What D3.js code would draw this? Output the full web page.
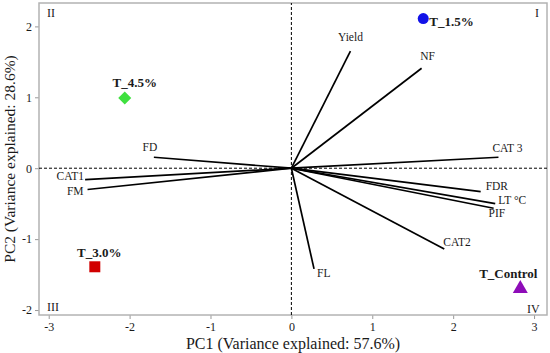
<!DOCTYPE html>
<html lang="en">

<head>
    <meta charset="UTF-8">
    <title>PCA biplot</title>
    <script src="https://d3js.org/d3.v7.min.js"></script>
    <style>
        body { margin: 0; background: #fff; }
        text { font-family: "Liberation Serif", "DejaVu Serif", serif; fill: #1a1a1a; }
    </style>
</head>

<body>
    <div class="chart"></div>

    <script>
        // Loading vectors (PC1, PC2)
        const varNames = ["Yield", "NF", "CAT 3", "FD", "CAT1", "FM", "FDR", "LT °C", "PIF", "CAT2", "FL"];
        const varPC1 = [0.73, 1.61, 2.56, -1.70, -2.55, -2.52, 2.34, 2.52, 2.50, 1.89, 0.28];
        const varPC2 = [1.65, 1.41, 0.155, 0.155, -0.16, -0.30, -0.33, -0.50, -0.565, -1.14, -1.42];

        // Treatment scores
        const treatNames = ["T_1.5%", "T_4.5%", "T_3.0%", "T_Control"];
        const treatPC1 = [1.63, -2.06, -2.43, 2.83];
        const treatPC2 = [2.11, 0.99, -1.39, -1.70];

        const xTicks = [-3, -2, -1, 0, 1, 2, 3];
        const yTicks = [-2, -1, 0, 1, 2];
        const quadrants = ["I", "II", "III", "IV"];

        const w = 550, h = 353;
        const margin = { top: 3, right: 3, bottom: 38, left: 39 };

        const x = d3.scaleLinear().domain([-3.12, 3.16]).range([margin.left, w - margin.right]);
        const y = d3.scaleLinear().domain([-2.07, 2.33]).range([h - margin.bottom, margin.top]);

        const svg = d3.select(".chart").append("svg")
            .attr("width", w)
            .attr("height", h);

        // axes (plain hyphen for negatives, like the original)
        const xAxis = svg.append("g")
            .attr("transform", `translate(0,${h - margin.bottom})`)
            .call(d3.axisBottom(x).tickValues(xTicks).tickSize(4).tickPadding(3).tickFormat(d => String(d)));
        const yAxis = svg.append("g")
            .attr("transform", `translate(${margin.left},0)`)
            .call(d3.axisLeft(y).tickValues(yTicks).tickSize(4).tickPadding(3).tickFormat(d => String(d)));
        [xAxis, yAxis].forEach(a => {
            a.select(".domain").remove();
            a.selectAll("line").attr("stroke", "#999");
            a.selectAll("text").style("font-size", "12px").attr("fill", "#333")
                .style("font-family", "'Liberation Serif', serif");
        });

        // frame
        svg.append("rect")
            .attr("x", margin.left).attr("y", margin.top)
            .attr("width", w - margin.left - margin.right)
            .attr("height", h - margin.top - margin.bottom)
            .attr("fill", "none").attr("stroke", "#b3b3b3").attr("stroke-width", 1.5);

        // dashed zero lines
        svg.append("line")
            .attr("x1", x.range()[0]).attr("x2", x.range()[1])
            .attr("y1", y(0)).attr("y2", y(0))
            .attr("stroke", "#000").attr("stroke-width", 1).attr("stroke-dasharray", "3,2");
        svg.append("line")
            .attr("x1", x(0)).attr("x2", x(0))
            .attr("y1", y.range()[0]).attr("y2", y.range()[1])
            .attr("stroke", "#000").attr("stroke-width", 1).attr("stroke-dasharray", "3,2");

        // loading vectors
        const vars = varNames.map((n, i) => ({ name: n, pc1: varPC1[i], pc2: varPC2[i] }));
        svg.selectAll(".vec")
            .data(vars)
            .join("line")
            .attr("class", "vec")
            .attr("x1", x(0)).attr("y1", y(0))
            .attr("x2", d => x(d.pc1)).attr("y2", d => y(d.pc2))
            .attr("stroke", "#000").attr("stroke-width", 1.7);

        // label nudges (anchor, dx, dy) so nothing overlaps
        const varLabelPos = {
            "Yield": ["middle", 0, -10],
            "NF": ["middle", 6, -8],
            "CAT 3": ["middle", 9, -5],
            "FD": ["middle", -4, -6],
            "CAT1": ["end", -1, 0.5],
            "FM": ["end", -4, 5.7],
            "FDR": ["start", 5, -1.7],
            "LT °C": ["start", 3, 0],
            "PIF": ["start", -5, 8.4],
            "CAT2": ["start", -1, -3],
            "FL": ["start", 3, 8.3]
        };
        svg.selectAll(".vec-label")
            .data(vars)
            .join("text")
            .attr("class", "vec-label")
            .attr("x", d => x(d.pc1) + varLabelPos[d.name][1])
            .attr("y", d => y(d.pc2) + varLabelPos[d.name][2])
            .attr("text-anchor", d => varLabelPos[d.name][0])
            .style("font-size", "11.5px")
            .text(d => d.name);

        // treatment points
        const treats = treatNames.map((n, i) => ({ name: n, pc1: treatPC1[i], pc2: treatPC2[i] }));
        const treatStyle = {
            "T_1.5%": { sym: d3.symbolCircle, size: 95, color: "#1212e8", rot: 0, label: ["start", 6, 7] },
            "T_4.5%": { sym: d3.symbolSquare, size: 85, color: "#3fe03f", rot: 45, label: ["middle", 10, -11] },
            "T_3.0%": { sym: d3.symbolSquare, size: 121, color: "#d10000", rot: 0, label: ["middle", 4.5, -10] },
            "T_Control": { sym: d3.symbolTriangle, size: 97, color: "#8e0cb8", rot: 0, label: ["middle", -12, -11] }
        };
        svg.selectAll(".pt")
            .data(treats)
            .join("path")
            .attr("class", "pt")
            .attr("d", d => d3.symbol(treatStyle[d.name].sym, treatStyle[d.name].size)())
            .attr("transform", d => `translate(${x(d.pc1)},${y(d.pc2)}) rotate(${treatStyle[d.name].rot})`)
            .attr("fill", d => treatStyle[d.name].color);
        svg.selectAll(".pt-label")
            .data(treats)
            .join("text")
            .attr("class", "pt-label")
            .attr("x", d => x(d.pc1) + treatStyle[d.name].label[1])
            .attr("y", d => y(d.pc2) + treatStyle[d.name].label[2])
            .attr("text-anchor", d => treatStyle[d.name].label[0])
            .style("font-size", "13px")
            .style("font-weight", "bold")
            .attr("fill", "#111")
            .text(d => d.name);

        // quadrant labels in the corners
        const qPos = {
            "I": [w - margin.right - 12, margin.top + 14],
            "II": [margin.left + 8, margin.top + 14],
            "III": [margin.left + 8, h - margin.bottom - 4],
            "IV": [w - margin.right - 20, h - margin.bottom - 2]
        };
        svg.selectAll(".quad")
            .data(quadrants)
            .join("text")
            .attr("class", "quad")
            .attr("x", d => qPos[d][0])
            .attr("y", d => qPos[d][1])
            .style("font-size", "12px")
            .text(d => d);

        // axis titles
        svg.append("text")
            .attr("x", (x.range()[0] + x.range()[1]) / 2)
            .attr("y", h - 4)
            .attr("text-anchor", "middle")
            .style("font-size", "16px")
            .text("PC1 (Variance explained: 57.6%)");
        svg.append("text")
            .attr("transform", `translate(15,${(y.range()[0] + y.range()[1]) / 2}) rotate(-90)`)
            .attr("text-anchor", "middle")
            .style("font-size", "15.5px")
            .text("PC2 (Variance explained: 28.6%)");
    </script>
</body>

</html>
